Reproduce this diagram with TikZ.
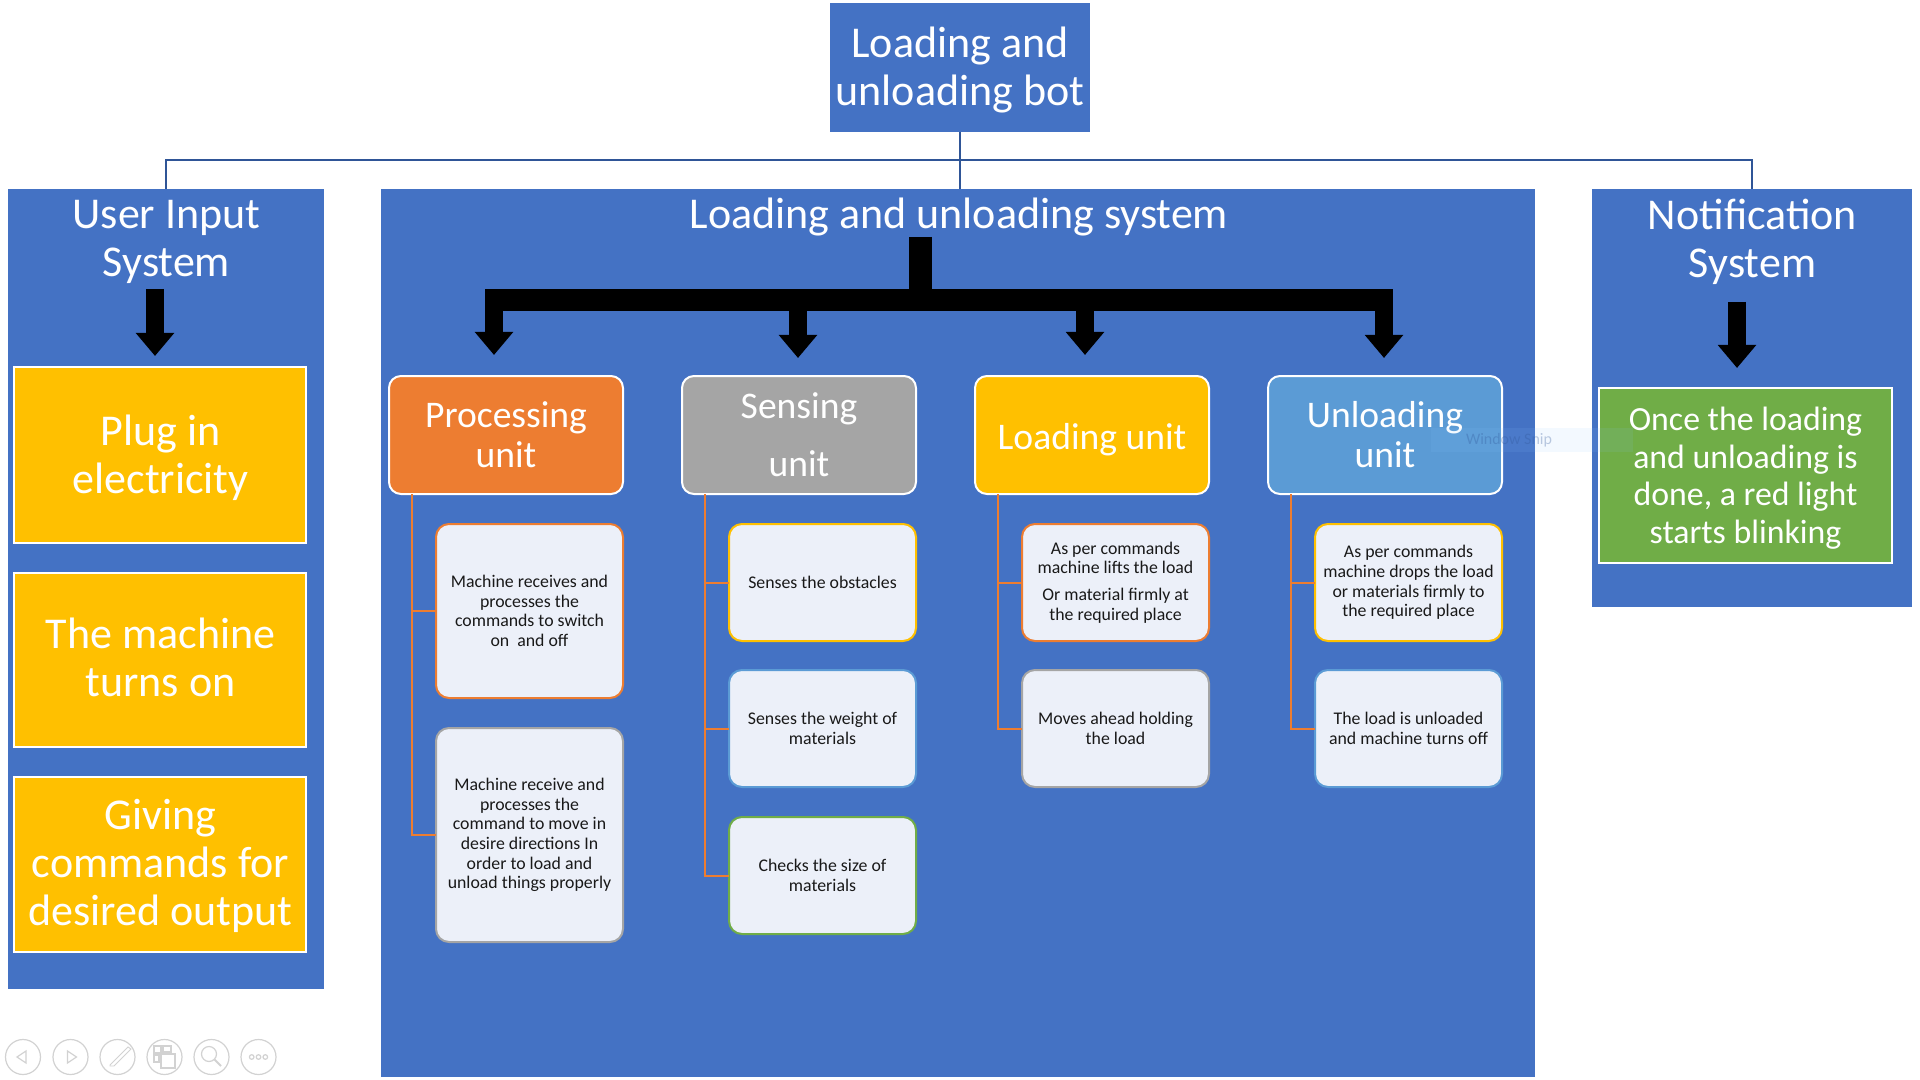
\documentclass[tikz,border=0pt]{standalone}
\usepackage{fontspec}
\setmainfont{Carlito}
\usetikzlibrary{arrows.meta}
\definecolor{panelblue}{HTML}{4472C4}
\definecolor{linkblue}{HTML}{2F5597}
\definecolor{yel}{HTML}{FFC000}
\definecolor{org}{HTML}{ED7D31}
\definecolor{gry}{HTML}{A5A5A5}
\definecolor{sky}{HTML}{5B9BD5}
\definecolor{grn}{HTML}{70AD47}
\definecolor{pale}{HTML}{ECF0F9}
\definecolor{navgrey}{HTML}{D2D2D2}
\newcommand{\bx}[7]{\node[#2, minimum width={(#5-#3)*0.5pt}, minimum height={(#6-#4)*0.5pt}] (#1) at ({(#3+#5)/2},{(#4+#6)/2}) {#7};}
\tikzset{
  x=0.5pt, y=-0.5pt,
  basebox/.style={inner sep=0pt, outer sep=0pt, align=center, anchor=center},
  panel/.style={basebox, fill=panelblue},
  bigtxt/.style={basebox, text=white, font=\fontsize{22}{24}\selectfont},
  unittxt/.style={font=\fontsize{18.8}{20}\selectfont},
  greentxt/.style={basebox, text=white, font=\fontsize{16.9}{18.8}\selectfont},
  yelbox/.style={basebox, fill=yel, draw=white, line width=1pt},
  unitbox/.style={basebox, text=white, unittxt, draw=white, line width=1pt, rounded corners=6pt},
  subbox/.style={basebox, text=black!90, fill=pale, draw=#1, line width=1pt, rounded corners=6.5pt, font=\fontsize{8.9}{9.8}\selectfont},
  link/.style={draw=linkblue, line width=0.9pt},
  branch/.style={draw=org, line width=1pt},
  bar/.style={draw=black, line width=11pt},
  stem/.style={draw=black, line width=9pt, -{Triangle[length=11.5pt,width=18.5pt]}},
  navring/.style={draw=navgrey, line width=0.6pt},
}
\begin{document}
\begin{tikzpicture}
\useasboundingbox (0,0) rectangle (1920,1080);
\fill[white] (0,0) rectangle (1920,1080);

% panels
\bx{top}{panel}{830}{3}{1090}{132}{}
\node[bigtxt] (toptxt) at (960,70) {Loading and\\unloading bot};
\bx{pleft}{panel}{8}{189}{324}{989}{}
\bx{pmid}{panel}{381}{189}{1535}{1077}{}
\bx{pright}{panel}{1592}{189}{1912}{607}{}

% top links
\coordinate (jn) at (960,160);
\draw[link] (top.south) -- (jn) -- (jn |- pmid.north);
\draw[link] (jn) -| (pleft.north);
\draw[link] (jn) -| (pright.north);

% panel titles
\node[bigtxt] (tleft) at (166.5,241.5) {User Input\\System};
\node[bigtxt] (tmid) at (959,217.5) {Loading and unloading system};
\node[bigtxt] (tright) at (1752.5,241.5) {Notification\\System};

% black arrows
\coordinate (lfrom) at (155,289); \coordinate (lto) at (155,356);
\coordinate (rfrom) at (1737,302); \coordinate (rto) at (1737,368);
\draw[stem] (lfrom) -- (lto);
\draw[stem] (rfrom) -- (rto);
\coordinate (mtop) at (920,237); \coordinate (mhub) at (920,300);
\coordinate (bl) at (485,300); \coordinate (br) at (1393,300);
\draw[bar] (bl) -- (br);
\draw[draw=black, line width=11.5pt] (mtop) -- (mhub);
\coordinate (a1) at (494,300); \coordinate (a1e) at (494,355);
\coordinate (a2) at (798,300); \coordinate (a2e) at (798,358);
\coordinate (a3) at (1085,300); \coordinate (a3e) at (1085,355);
\coordinate (a4) at (1384,300); \coordinate (a4e) at (1384,358);
\draw[stem] (a1) -- (a1e);
\draw[stem] (a2) -- (a2e);
\draw[stem] (a3) -- (a3e);
\draw[stem] (a4) -- (a4e);

% left yellow boxes
\bx{y1}{yelbox}{14}{367}{306}{543}{}
\node[bigtxt] (y1txt) at (160.5,457.5) {Plug in\\electricity};
\bx{y2}{yelbox}{14}{573}{306}{747}{}
\node[bigtxt] (y2txt) at (160.5,657.5) {The machine\\turns on};
\bx{y3}{yelbox}{14}{777}{306}{952}{}
\node[bigtxt] (y3txt) at (160.5,865.5) {Giving\\commands for\\desired output};

% right green box
\bx{g1}{basebox,fill=grn,draw=white,line width=1pt}{1599}{388}{1892}{563}{}
\node[greentxt] (g1txt) at (1745.5,478) {Once the loading\\and unloading is\\done, a red light\\starts blinking};

% unit boxes
\bx{u1}{unitbox,fill=org}{389}{376}{623}{494}{Processing\\unit}
\bx{u2}{unitbox,fill=gry}{682}{376}{916}{494}{Sensing\\[9pt]unit}
\bx{u3}{unitbox,fill=yel}{975}{376}{1209}{494}{}
\node[basebox, text=white, unittxt] (u3txt) at (1092,439.5) {Loading unit};
\bx{u4}{unitbox,fill=sky}{1268}{376}{1502}{494}{Unloading\\unit}

% sub boxes
\bx{s11}{subbox=org}{436}{524}{623}{698}{Machine receives and\\processes the\\commands to switch\\on~ and off}
\bx{s12}{subbox=gry}{436}{728}{623}{942}{Machine receive and\\processes the\\command to move in\\desire directions In\\order to load and\\unload things properly}
\bx{s21}{subbox=yel}{729}{524}{916}{641}{Senses the obstacles}
\bx{s22}{subbox=sky}{729}{670}{916}{787}{Senses the weight of\\materials}
\bx{s23}{subbox=grn}{729}{817}{916}{934}{Checks the size of\\materials}
\bx{s31}{subbox=org}{1022}{524}{1209}{641}{As per commands\\machine lifts the load\\[3.7pt]Or material firmly at\\the required place}
\bx{s32}{subbox=gry}{1022}{670}{1209}{787}{Moves ahead holding\\the load}
\bx{s41}{subbox=yel}{1315}{524}{1502}{641}{As per commands\\machine drops the load\\or materials firmly to\\the required place}
\bx{s42}{subbox=sky}{1315}{670}{1502}{787}{The load is unloaded\\and machine turns off}

% orange branches
\coordinate (t1) at (412,494);
\coordinate (t2) at (705,494);
\coordinate (t3) at (998,494);
\coordinate (t4) at (1291,494);
\draw[branch] (t1) |- (s11.west);
\draw[branch] (t1) |- (s12.west);
\draw[branch] (t2) |- (s21.west);
\draw[branch] (t2) |- (s22.west);
\draw[branch] (t2) |- (s23.west);
\draw[branch] (t3) |- (s31.west);
\draw[branch] (t3) |- (s32.west);
\draw[branch] (t4) |- (s41.west);
\draw[branch] (t4) |- (s42.west);

% window snip overlay
\fill[fill={rgb,1:red,0.55;green,0.78;blue,1}, fill opacity=0.1] (1431,428) rectangle (1633,452);
\node[basebox, text=linkblue, text opacity=0.3, font=\fontsize{8}{9}\selectfont] (snip) at (1509,440) {Window Snip};

% presentation controls
\foreach \cx in {23,70.5,117.5,164.5,211.5,258.5} \draw[navring] (\cx,1057) circle[radius=17.5];
\draw[navring] (17,1057) -- (26,1051) -- (26,1063) -- cycle;
\draw[navring] (67.5,1051) -- (76.5,1057) -- (67.5,1063) -- cycle;
\draw[navring, line width=0.45pt] (128,1047) -- (131,1049) -- (114,1066) -- (110,1066) -- (110,1065) -- cycle;
\draw[navring] (154,1046) rectangle (161,1053);
\draw[navring] (163,1046) rectangle (171,1052);
\draw[navring] (154,1055) rectangle (159,1062);
\draw[navring] (161,1054) rectangle (175,1068);
\draw[navring] (209,1054) circle[radius=7.5];
\draw[navring, line width=1pt] (214.5,1059.5) -- (221,1066);
\foreach \dx in {251.7,258.5,265.3} \draw[navring] (\dx,1057) circle[radius=2.3];
\end{tikzpicture}
\end{document}
